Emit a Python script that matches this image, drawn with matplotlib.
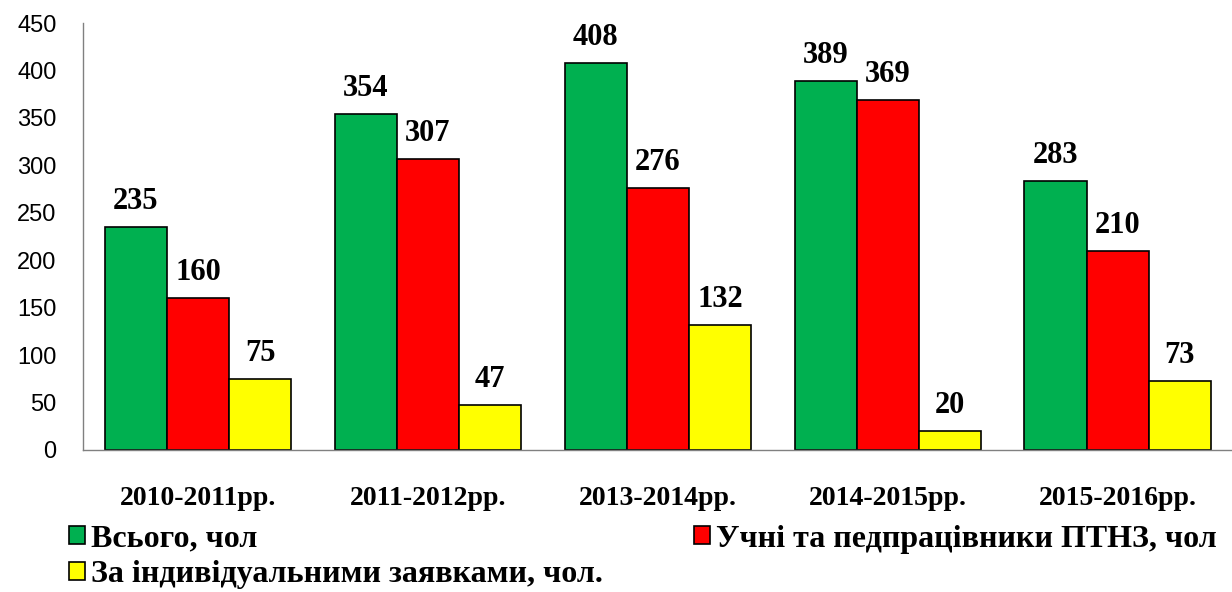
import matplotlib
matplotlib.use("Agg")
import matplotlib.pyplot as plt
import numpy as np

categories = ["2010-2011рр.", "2011-2012рр.", "2013-2014рр.", "2014-2015рр.", "2015-2016рр."]
series_names = ["Всього, чол", "Учні та педпрацівники ПТНЗ, чол", "За індивідуальними заявками, чол."]
total = [235, 354, 408, 389, 283]
students = [160, 307, 276, 369, 210]
individual = [75, 47, 132, 20, 73]
colors = ["#00B050", "#FF0000", "#FFFF00"]
yticks = [0, 50, 100, 150, 200, 250, 300, 350, 400, 450]

fig = plt.figure(figsize=(12.32, 5.92), dpi=100)
ax = fig.add_axes([0.0674, 0.240, 0.933, 0.721])

x = np.arange(len(categories))
w = 0.27
handles = []
for i, (vals, col, name) in enumerate(zip([total, students, individual], colors, series_names)):
    bars = ax.bar(x + (i - 1) * w, vals, width=w, color=col, edgecolor="black", linewidth=1.2, label=name)
    handles.append(bars)
    for b, v in zip(bars, vals):
        ax.annotate(str(v), (b.get_x() + b.get_width() / 2, v), xytext=(0, 8), textcoords="offset points",
                    ha="center", va="bottom", fontsize=22, fontweight="bold", family="Liberation Serif")

ax.set_xlim(-0.5, len(categories) - 0.5)
ax.set_ylim(0, 450)
ax.set_yticks(yticks)
ax.set_yticklabels([str(t) for t in yticks], fontsize=17, family="Liberation Sans")
ax.set_xticks(x)
ax.set_xticklabels(categories, fontsize=20, fontweight="bold", family="Liberation Serif")
ax.tick_params(axis="both", length=0)
ax.tick_params(axis="y", pad=19)
ax.tick_params(axis="x", pad=26)
for s in ["top", "right"]:
    ax.spines[s].set_visible(False)
for s in ["left", "bottom"]:
    ax.spines[s].set_color("#808080")
    ax.spines[s].set_linewidth(1.0)

leg = fig.legend([handles[0], handles[2], handles[1]],
                 [series_names[0], series_names[2], series_names[1]],
                 ncol=2, mode="expand", loc="lower left",
                 bbox_to_anchor=(0.056, 0.005, 0.932, 0.13),
                 prop={"family": "Liberation Serif", "weight": "bold", "size": 23},
                 frameon=False, handlelength=0.5, handleheight=0.5, handletextpad=0.2,
                 borderaxespad=0.0, borderpad=0.0, labelspacing=0.2)

fig.savefig("out.png", dpi=100)
